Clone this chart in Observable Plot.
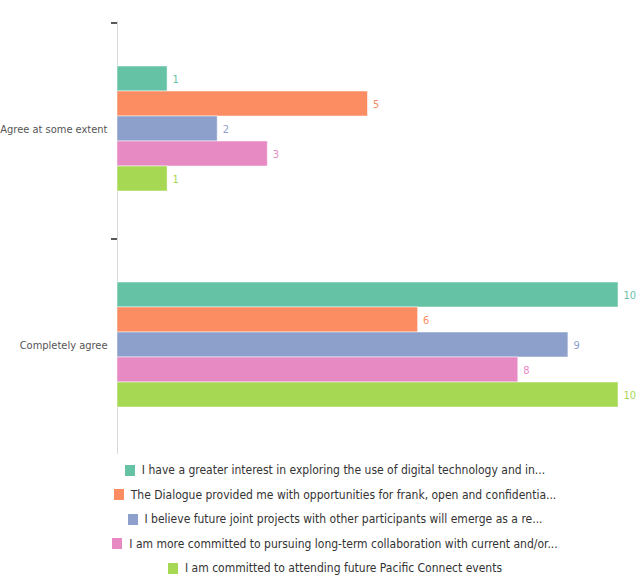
<!DOCTYPE html>
<html><head><meta charset="utf-8">
<script src="https://cdn.jsdelivr.net/npm/d3@7"></script>
<script src="https://cdn.jsdelivr.net/npm/@observablehq/plot@0.6"></script>
<style>
body{margin:0;background:#fff;font-family:"Liberation Sans Narrow","DejaVu Sans Condensed",sans-serif;}
#legend{padding-top:3px;padding-left:32px;width:606px;}
.li{display:flex;justify-content:center;align-items:center;height:24.5px;font-size:12px;color:#333;}
.sw{width:10px;height:11px;margin-right:7px;flex:none;}
</style></head><body><div id="chart"></div><div id="legend"></div>
<script>
const categories = ["Agree at some extent", "Completely agree"];
const series = [
  "I have a greater interest in exploring the use of digital technology and in...",
  "The Dialogue provided me with opportunities for frank, open and confidentia...",
  "I believe future joint projects with other participants will emerge as a re...",
  "I am more committed to pursuing long-term collaboration with current and/or...",
  "I am committed to attending future Pacific Connect events"
];
const agreeSomeExtent = [1, 5, 2, 3, 1];
const completelyAgree = [10, 6, 9, 8, 10];
const colors = ["#66c2a5", "#fc8d62", "#8da0cb", "#e78ac3", "#a6d854"];

const valuesByCategory = [agreeSomeExtent, completelyAgree];
const data = categories.flatMap((c, i) => series.map((s, j) => ({category: c, series: s, value: valuesByCategory[i][j]})));
const tickData = categories.map(c => ({category: c, series: series[0]}));
const font = '"Liberation Sans Narrow","DejaVu Sans Condensed",sans-serif';

const plot = Plot.plot({
  width: 638, height: 455,
  marginLeft: 117, marginRight: 20, marginTop: 20, marginBottom: 2,
  style: {fontFamily: font, background: "#fff"},
  x: {domain: [0, 10], axis: null},
  y: {domain: series, axis: null, padding: 0, insetTop: 43, insetBottom: 44},
  fy: {domain: categories, padding: 0, label: null, axis: null},
  color: {domain: series, range: colors},
  marks: [
    Plot.axisFy({anchor: "left", tickSize: 0, tickPadding: 10, fontSize: 11, fill: "#555", label: null}),
    Plot.frame({anchor: "left", stroke: "#d9d9d9"}),
    Plot.barX(data, {fy: "category", y: "series", x: "value", fill: "series", stroke: "#fff", strokeOpacity: 0.5}),
    Plot.text(data, {fy: "category", y: "series", x: "value", text: "value", fill: "series", textAnchor: "start", dx: 5, fontSize: 11}),
    Plot.ruleY(tickData, {fy: "category", y: "series", x1: -0.12, x2: 0, dy: -56, stroke: "#222", strokeWidth: 1.5})
  ]
});
document.getElementById("chart").appendChild(plot);

const legend = document.getElementById("legend");
series.forEach((s, i) => {
  const row = document.createElement("div");
  row.className = "li";
  const sw = document.createElement("span");
  sw.className = "sw";
  sw.style.background = colors[i];
  const t = document.createElement("span");
  t.textContent = s;
  row.appendChild(sw); row.appendChild(t);
  legend.appendChild(row);
});
</script></body></html>
